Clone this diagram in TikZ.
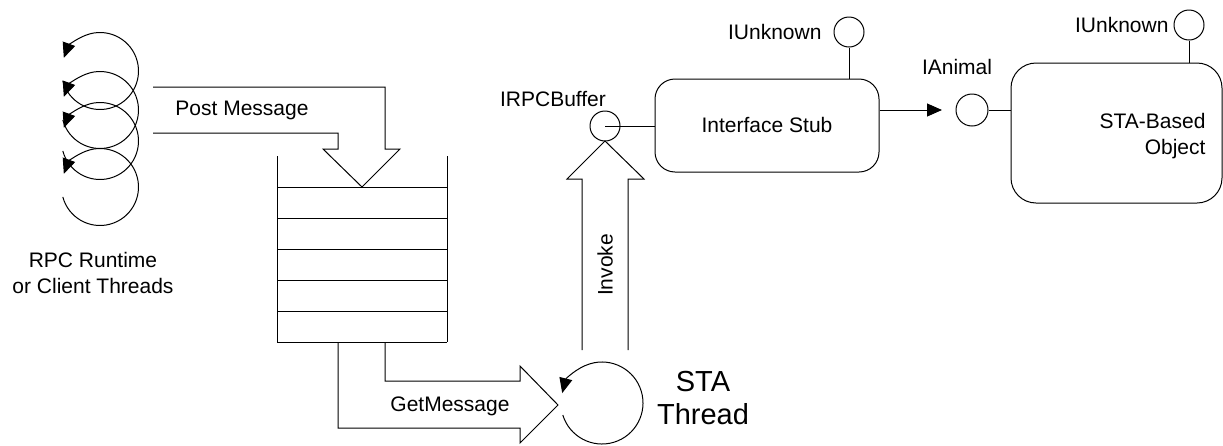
\documentclass[tikz,border=0pt]{standalone}
\usepackage{fontspec}
\setmainfont{Liberation Sans}
\usetikzlibrary{arrows.meta,calc}
\begin{document}
\begin{tikzpicture}[x=1pt,y=-1pt,line width=1pt,
  txt/.style={inner sep=0pt,font=\fontsize{21}{26}\selectfont},
  bigtxt/.style={inner sep=0pt,font=\fontsize{29}{33}\selectfont},
  lolli/.style={draw,circle,minimum size=30pt,inner sep=0pt},
  compbox/.style={draw,rectangle,inner sep=0pt},
  bigarrow/.style={draw,line join=miter},
  tri/.style={-{Triangle[length=15pt,width=13pt]}},
  loop/.style={tri}]
\useasboundingbox (0,0) rectangle (1223,445);

% RPC runtime loops
\foreach \cy in {71,110,141,187}{
  \draw[loop] ($(100,\cy)+(165:38.5)$) arc[start angle=165,end angle=-160,radius=38.5];
}
\node[txt,align=center] (rpc) at (93,273) {RPC Runtime\\or Client Threads};

% Queue
\coordinate (qtl) at (277,156);
\coordinate (qtr) at (447,156);
\coordinate (qbl) at (277,342);
\coordinate (qbr) at (447,342);
\draw (qtl) -- (qbl);
\draw (qtr) -- (qbr);
\foreach \yy in {187,218,249,280,311,342}{
  \draw (277,\yy) -- (447,\yy);
}

% Post Message arrow
\draw[bigarrow] (153,87) -- (385,87) -- (385,149) -- (400,149) -- (362,187)
  -- (323,149) -- (338,149) -- (338,133) -- (153,133);
\node[txt] (post) at (242,110) {Post Message};

% GetMessage arrow
\draw[bigarrow] (338,342) -- (338,428) -- (520,428) -- (520,443) -- (558,405)
  -- (520,366) -- (520,381) -- (385,381) -- (385,342);
\node[txt] (getmsg) at (450,406) {GetMessage};

% STA Thread loop
\coordinate (stac) at (602,403);
\draw[tri] ($(stac)+(163:41)$) arc[start angle=163,end angle=-166,radius=41];
\node[bigtxt,align=center] (sta) at (703,398) {STA\\Thread};

% Invoke arrow
\draw[bigarrow] (582,350) -- (582,179) -- (567,179) -- (605,141) -- (644,179)
  -- (628,179) -- (628,350);
\node[txt,rotate=90] (invoke) at (605,265) {Invoke};

% Interface stub
\node[compbox,rounded corners=20pt,minimum width=224pt,minimum height=93pt] (stub) at (767,125.5) {};
\node[txt] (stubtxt) at (767,125) {Interface Stub};
\node[lolli] (irpc) at (605,126) {};
\draw (irpc.center) -- (stub.west |- irpc.center);
\node[txt] (irpctxt) at (553,99) {IRPCBuffer};
\node[lolli] (iunk1) at (849,32) {};
\draw (iunk1.south) -- (iunk1.south |- stub.north);
\node[txt,anchor=east] (iunk1txt) at (822,32) {IUnknown};

% STA-based object
\node[compbox,rounded corners=25pt,minimum width=211pt,minimum height=140pt] (obj) at (1116.5,133) {};
\node[txt,align=right,anchor=east] (objtxt) at (1206,136) {STA-Based\\Object};
\node[lolli,minimum size=32pt] (ianimal) at (972,110) {};
\draw (ianimal.east) -- (obj.west |- ianimal.east);
\node[txt] (ianimaltxt) at (957,67) {IAnimal};
\node[lolli] (iunk2) at (1189,25) {};
\draw (iunk2.south) -- (iunk2.south |- obj.north);
\node[txt,anchor=east] (iunk2txt) at (1169,25) {IUnknown};

% call arrow
\coordinate (callend) at (942,110);
\draw[tri] (stub.east |- callend) -- (callend);
\end{tikzpicture}
\end{document}
